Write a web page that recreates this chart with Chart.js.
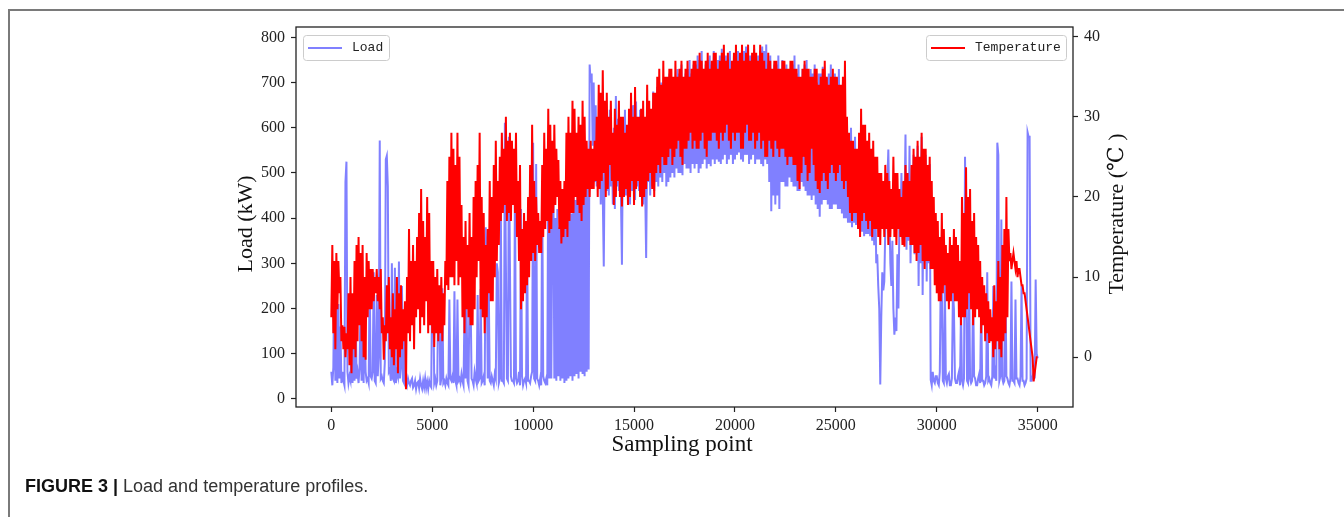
<!DOCTYPE html>
<html>
<head>
<meta charset="utf-8">
<script src="https://cdn.jsdelivr.net/npm/chart.js@4.4.1/dist/chart.umd.min.js"></script>
<style>
  html, body { margin: 0; padding: 0; background: #fff; }
  #wrap { position: relative; width: 1344px; height: 517px; overflow: hidden; }
  #chart { position: absolute; left: 0; top: 0; }
  #frame { position: absolute; left: 8px; top: 9px; right: -4px; bottom: -4px;
           border-left: 2px solid #7a7a7a; border-top: 2px solid #7a7a7a; }
  #caption { position: absolute; left: 25px; top: 476px; font-family: "Liberation Sans", Arial, sans-serif;
             font-size: 18px; color: #333; white-space: nowrap; }
  #caption b { color: #111; }
</style>
</head>
<body>
<div id="wrap">
  <div id="frame"></div>
  <canvas id="chart" width="1344" height="517"></canvas>
  <div id="caption"><b>FIGURE 3 |</b> Load and temperature profiles.</div>
</div>
<script>
// ================= DATA =================
// one value every 50 sampling points, 0 .. 35000
const sampleStep = 50;

const loadValues = [
  60, 30, 70, 285, 40, 250, 35, 210, 45, 160, 35, 60, 40, 30, 480, 525, 60, 35, 50, 40,            // 0
  150, 35, 120, 40, 240, 45, 60, 35, 70, 215, 40, 200, 35, 190, 60, 40, 45, 35, 275, 50,           // 1000
  45, 60, 280, 40, 35, 230, 50, 95, 572, 45, 50, 40, 35, 80, 530, 538, 470, 60, 65, 40,            // 2000
  300, 45, 40, 290, 35, 60, 50, 304, 45, 70, 250, 40, 35, 200, 40, 30, 45, 35, 30, 40,             // 3000
  45, 25, 30, 40, 22, 35, 38, 24, 45, 30, 22, 40, 26, 45, 24, 38, 22, 40, 30, 26,                  // 4000
  268, 240, 35, 45, 30, 40, 250, 230, 30, 45, 245, 35, 40, 30, 45, 35, 30, 220, 45, 40,            // 5000
  50, 35, 238, 40, 30, 220, 40, 45, 35, 55, 40, 30, 200, 45, 210, 40, 30, 249, 230, 45,            // 6000
  40, 30, 60, 45, 35, 230, 40, 45, 243, 35, 40, 50, 30, 380, 300, 45, 253, 40, 35, 50,             // 7000
  40, 30, 55, 45, 300, 280, 35, 45, 420, 40, 40, 35, 611, 300, 45, 40, 580, 300, 50, 40,           // 8000
  40, 35, 480, 45, 35, 40, 60, 30, 420, 50, 30, 40, 45, 35, 380, 40, 40, 35, 50, 60,               // 9000
  567, 45, 40, 520, 45, 40, 30, 45, 30, 470, 50, 40, 35, 45, 30, 540, 45, 380, 45, 420,            // 10000
  514, 45, 400, 40, 420, 50, 380, 40, 440, 45, 420, 35, 450, 40, 400, 45, 430, 50, 410, 40,        // 11000
  460, 50, 440, 55, 470, 45, 450, 60, 485, 55, 470, 50, 500, 60, 480, 65, 740, 700, 720, 560,      // 12000
  700, 480, 650, 470, 600, 520, 620, 430, 600, 450, 293, 560, 620, 460, 590, 450, 640, 470, 560, 430, // 13000
  600, 420, 670, 470, 620, 460, 600, 450, 297, 580, 470, 640, 450, 600, 440, 620, 430, 610, 460, 650, // 14000
  620, 440, 658, 470, 600, 460, 640, 450, 580, 430, 600, 470, 312, 560, 480, 620, 450, 640, 470, 680, // 15000
  460, 650, 480, 690, 470, 670, 490, 700, 480, 680, 500, 710, 470, 690, 480, 720, 490, 700, 500, 700, // 16000
  490, 710, 510, 730, 500, 720, 500, 740, 495, 700, 520, 720, 510, 730, 510, 750, 500, 720, 520, 740, // 17000
  510, 740, 520, 760, 500, 750, 510, 770, 520, 730, 530, 740, 510, 750, 520, 760, 515, 740, 530, 770, // 18000
  520, 730, 530, 750, 525, 760, 520, 775, 530, 740, 540, 760, 520, 750, 530, 770, 540, 740, 520, 760, // 19000
  530, 760, 540, 770, 545, 740, 530, 760, 525, 770, 540, 780, 540, 750, 520, 760, 530, 760, 540, 775, // 20000
  520, 740, 530, 760, 530, 770, 520, 780, 515, 770, 530, 784, 520, 740, 480, 760, 415, 700, 450, 740, // 21000
  430, 740, 450, 760, 420, 730, 480, 750, 480, 720, 470, 740, 470, 710, 490, 730, 480, 740, 470, 760, // 22000
  470, 720, 460, 740, 460, 710, 480, 730, 470, 740, 460, 750, 450, 710, 450, 730, 440, 720, 450, 740, // 23000
  430, 700, 420, 720, 403, 720, 430, 735, 440, 690, 440, 710, 430, 720, 420, 740, 420, 700, 430, 720, // 24000
  430, 710, 420, 730, 420, 680, 410, 700, 400, 600, 400, 620, 390, 580, 390, 600, 380, 560, 390, 580, // 25000
  385, 540, 380, 560, 370, 520, 370, 540, 360, 500, 365, 520, 365, 480, 360, 500, 350, 460, 340, 480, // 26000
  300, 320, 250, 200, 32, 180, 280, 240, 260, 380, 400, 480, 552, 420, 300, 250, 350, 200, 142, 180,  // 27000
  150, 320, 200, 400, 380, 500, 360, 480, 420, 585, 330, 500, 350, 560, 300, 460, 380, 540, 320, 480, // 28000
  350, 560, 250, 500, 300, 580, 230, 480, 320, 540, 260, 470, 300, 520, 42, 30, 60, 40, 35, 50,       // 29000
  50, 35, 30, 60, 286, 250, 40, 35, 260, 45, 35, 50, 55, 30, 30, 45, 240, 200, 45, 35,             // 30000
  35, 50, 60, 30, 200, 40, 30, 45, 536, 300, 40, 35, 300, 45, 35, 40, 260, 50, 45, 30,             // 31000
  30, 45, 55, 35, 220, 40, 40, 30, 35, 50, 280, 40, 45, 35, 30, 50, 250, 45, 60, 40,               // 32000
  567, 540, 40, 50, 397, 45, 35, 40, 290, 50, 45, 35, 30, 45, 260, 40, 40, 35, 220, 45,            // 33000
  45, 35, 30, 50, 250, 40, 40, 30, 35, 45, 590, 580, 580, 40, 40, 50, 60, 45, 264, 100,            // 34000
  90                                                                                               // 35000
];

const tempValues = [
  5, 14, 3, 12, 1, 13, 6, 12, 8, 10, 2, 4, 1, 3.8, 0, 3, 1, 8, -1, 10,                // 0
  -2, 8, 1, 12, 0, 14, 2, 15, 4, 13, 2, 14, 0, 10, -0.3, 13, 5, 12, 6, 11,            // 1000
  6, 11, 7, 10, 8, 11, 7, 10, 6, 11, 3, 5, -0.3, 4, 2, 9, 3, 10, 1, 5,                // 2000
  0, 8, -1, 6, 1, 10, -2, 8, 0, 9, 1, 6, 2, 7, -4, 10, 3, 16, 2, 12,                  // 3000
  4, 14, 1, 12, 5, 15, 6, 18, 3, 21, 5, 17, 4, 15, 7, 20, 3, 18, 4, 12,               // 4000
  3, 12, 1.3, 10, 3, 11, 2, 9, 3, 10, 2, 8, 4, 12, 9, 22, 8.4, 25, 10, 28,            // 5000
  10, 26, 9, 24, 12, 28, 9, 25, 10, 19, 5, 15, 3, 17, 6, 14, 5, 18, 4, 15,            // 6000
  4, 20, 6, 22, 10, 24, 12, 28, 6, 20, 5, 18, 3, 14, 5, 16, 8, 22, 7, 20,             // 7000
  7, 24, 10, 27, 12, 22, 14, 25, 17, 28, 18, 26, 19, 30, 17, 27, 18, 28, 17, 27,      // 8000
  19, 26, 18, 28, 15, 22, 12, 24, 6, 16, 7, 18, 8, 17, 9, 20, 10, 24, 12, 29,         // 9000
  13, 22, 12, 20, 14, 18, 13, 17, 13, 24, 15, 28, 16, 26, 17, 31, 15.5, 29, 16, 27,   // 10000
  18, 29, 19, 26, 20, 24.6, 16, 22, 14.2, 21, 15, 22, 16, 28, 15, 30, 17, 28, 18, 32, // 11000
  18, 31, 20, 28, 19, 30, 18, 29, 17, 32, 19, 30, 20, 27, 21, 26, 20, 27, 21, 26,     // 12000
  21, 27, 22, 30, 20, 34, 21, 33, 22, 35.8, 23, 32, 20, 33, 21, 30, 24, 32, 22, 28,   // 13000
  19, 31, 20, 29, 22, 32, 20, 30, 18.8, 30, 20, 28, 21, 29, 19, 31, 20, 33, 22, 30,   // 14000
  19, 33.7, 21, 30, 22, 30, 20, 31, 18.8, 32, 20, 30, 21, 34, 22, 32, 23, 31, 21, 33, // 15000
  20, 33, 23, 35, 24, 36, 23, 34, 25, 37, 24, 35, 24, 35, 25, 36, 26, 36, 24, 35,     // 16000
  25, 37, 26, 35, 27, 36, 25, 37, 24, 35, 26, 36, 26, 37, 27, 35, 28, 36, 26, 37,     // 17000
  27, 37, 26, 36, 26, 38, 27, 37, 28, 36, 26, 37, 25, 38, 27, 36, 27, 37, 28, 38,     // 18000
  28, 38, 27, 36, 26, 37, 28, 38, 27, 39, 28, 37, 29, 38, 27, 36, 26, 37, 28, 38,     // 19000
  27, 39, 28, 37, 28, 38, 26, 39, 26, 37, 28, 38, 29, 39, 27, 37, 27, 38, 28, 39,     // 20000
  26, 38, 27, 37, 28, 39, 26, 38, 27, 37, 25, 36, 25, 38, 27, 37, 26, 36, 25, 37,     // 21000
  27, 37, 26, 36, 25, 36, 26, 37, 26, 37, 25, 36, 24, 36, 25, 37, 25, 37, 24, 36,     // 22000
  24, 36, 22, 35, 21, 35, 23, 36, 25, 37, 24, 36, 22, 36, 23, 35, 26, 35, 24, 36,     // 23000
  22, 36, 21, 34, 20.5, 35, 22, 36, 23, 37, 22, 35, 21, 34, 23, 35, 24, 36, 23, 35,   // 24000
  22, 35, 23, 34, 24, 34, 22, 35, 21, 37, 22, 30, 20, 28, 18, 27, 17, 27, 18, 26,     // 25000
  18, 26, 16, 28, 15, 31, 17, 29, 18, 29, 17, 27, 16, 28, 17, 26, 15, 27, 16, 25,     // 26000
  16, 25, 15, 23, 14, 23, 16, 22, 15, 24, 16, 23, 14, 22, 15, 21, 16, 25, 15, 23,     // 27000
  14, 23, 16, 21, 15, 20, 14, 22, 13.8, 24, 15, 23, 15, 22, 14, 24, 14, 26, 13, 25,   // 28000
  12, 27, 13, 25, 14, 28, 12, 26, 11, 26, 12, 24, 12, 25, 11, 22, 11, 20, 9, 18,      // 29000
  8, 17, 7, 15, 7, 18, 8, 16, 9, 14, 7, 13, 6, 15, 7, 14, 8, 16, 7, 15,               // 30000
  7, 14, 5, 12, 4, 20, 5, 18, 5, 23.7, 6, 20, 8, 21, 6, 17, 4, 18, 5, 15,             // 31000
  6, 14, 5, 12, 3, 10, 4, 9, 2, 8, 3, 7, 1.8, 6, 2, 5, 0, 9, 1, 7,                    // 32000
  2, 12, 1, 10, 0, 14, 2, 16, 3, 20, 5, 16, 12, 13, 11, 12, 13, 12, 11, 12,           // 33000
  10, 11, 11, 10, 9, 9, 8, 8, 7, 6, 5, 4, 3, 2, 1, 0, -3, -2, -1, 0,                  // 34000
  0                                                                                   // 35000
];

const xTicks = [0, 5000, 10000, 15000, 20000, 25000, 30000, 35000];
const loadTicks = [0, 100, 200, 300, 400, 500, 600, 700, 800];
const tempTicks = [0, 10, 20, 30, 40];

const loadLabel = "Load";
const tempLabel = "Temperature";

// ================= STYLE =================
const LOAD_COLOR = "#8080ff";
const TEMP_COLOR = "#ff0000";
const AXIS_COLOR = "#222";
const SERIF = '"Liberation Serif", "DejaVu Serif", serif';
const MONO = '"Liberation Mono", "DejaVu Sans Mono", monospace';

function toPoints(values) {
  return values.map((v, i) => ({ x: i * sampleStep, y: v }));
}

// ================= FRAME, LEGENDS, TITLES =================
function drawLegend(ctx, box, color, label) {
  ctx.save();
  ctx.beginPath();
  ctx.roundRect(box.x + 0.5, box.y + 0.5, box.w, box.h, 3);
  ctx.fillStyle = "rgba(255,255,255,0.8)";
  ctx.fill();
  ctx.strokeStyle = "#cccccc";
  ctx.lineWidth = 1;
  ctx.stroke();

  const midY = box.y + box.h / 2 + 0.5;
  ctx.beginPath();
  ctx.moveTo(box.x + 5, midY);
  ctx.lineTo(box.x + 39, midY);
  ctx.strokeStyle = color;
  ctx.lineWidth = 2;
  ctx.stroke();

  ctx.fillStyle = "#222";
  ctx.font = "13px " + MONO;
  ctx.textAlign = "left";
  ctx.textBaseline = "middle";
  ctx.fillText(label, box.x + 49, midY);
  ctx.restore();
}

function drawRotated(ctx, text, x, y, font) {
  ctx.save();
  ctx.translate(x, y);
  ctx.rotate(-Math.PI / 2);
  ctx.font = font;
  ctx.fillStyle = "#111";
  ctx.textAlign = "center";
  ctx.textBaseline = "middle";
  ctx.fillText(text, 0, 0);
  ctx.restore();
}

const decorPlugin = {
  id: "decor",
  afterDraw(chart) {
    const ctx = chart.ctx;
    const a = chart.chartArea;

    // axes box
    ctx.save();
    ctx.strokeStyle = AXIS_COLOR;
    ctx.lineWidth = 1.3;
    ctx.strokeRect(a.left, a.top, a.right - a.left, a.bottom - a.top);
    ctx.restore();

    drawLegend(ctx, { x: 303, y: 35, w: 86, h: 25 }, LOAD_COLOR, loadLabel);
    drawLegend(ctx, { x: 926, y: 35, w: 140, h: 25 }, TEMP_COLOR, tempLabel);

    // axis titles
    drawRotated(ctx, "Load (kW)", 246, 224, "22px " + SERIF);
    drawRotated(ctx, "Temperature (\u2103 )", 1117, 214, "22px " + SERIF);

    ctx.save();
    ctx.font = "23px " + SERIF;
    ctx.fillStyle = "#111";
    ctx.textAlign = "center";
    ctx.textBaseline = "middle";
    ctx.fillText("Sampling point", 682, 445);
    ctx.restore();
  },
};

function fixedTicks(list) {
  return (axis) => {
    axis.ticks = list.map((v) => ({ value: v }));
  };
}

const tickFont = { family: SERIF, size: 16 };

// ================= CHART =================
new Chart(document.getElementById("chart"), {
  type: "line",
  data: {
    datasets: [
      {
        label: loadLabel,
        data: toPoints(loadValues),
        borderColor: LOAD_COLOR,
        borderWidth: 2,
        pointRadius: 0,
        tension: 0,
        yAxisID: "yLoad",
        order: 2,
      },
      {
        label: tempLabel,
        data: toPoints(tempValues),
        borderColor: TEMP_COLOR,
        borderWidth: 2,
        pointRadius: 0,
        tension: 0,
        yAxisID: "yTemp",
        order: 1,
      },
    ],
  },
  options: {
    responsive: false,
    animation: false,
    events: [],
    layout: { padding: { top: 27, left: 0, right: 0, bottom: 0 } },
    plugins: {
      legend: { display: false },
      tooltip: { enabled: false },
    },
    scales: {
      x: {
        type: "linear",
        min: -1750,
        max: 36750,
        afterBuildTicks: fixedTicks(xTicks),
        afterFit: (s) => { s.height = 110; },
        border: { display: false },
        grid: { drawOnChartArea: false, tickLength: 5, tickColor: AXIS_COLOR, tickWidth: 1.2 },
        ticks: { color: "#222", font: tickFont, padding: 4, maxRotation: 0, callback: (v) => String(v) },
      },
      yLoad: {
        type: "linear",
        position: "left",
        min: -18,
        max: 823,
        afterBuildTicks: fixedTicks(loadTicks),
        afterFit: (s) => { s.width = 296; },
        border: { display: false },
        grid: { drawOnChartArea: false, tickLength: 5, tickColor: AXIS_COLOR, tickWidth: 1.2 },
        ticks: { color: "#222", font: tickFont, padding: 6, callback: (v) => String(v) },
      },
      yTemp: {
        type: "linear",
        position: "right",
        min: -6.2,
        max: 41.2,
        afterBuildTicks: fixedTicks(tempTicks),
        afterFit: (s) => { s.width = 271; },
        border: { display: false },
        grid: { drawOnChartArea: false, tickLength: 5, tickColor: AXIS_COLOR, tickWidth: 1.2 },
        ticks: { color: "#222", font: tickFont, padding: 6, callback: (v) => String(v) },
      },
    },
  },
  plugins: [decorPlugin],
});
</script>
</body>
</html>
